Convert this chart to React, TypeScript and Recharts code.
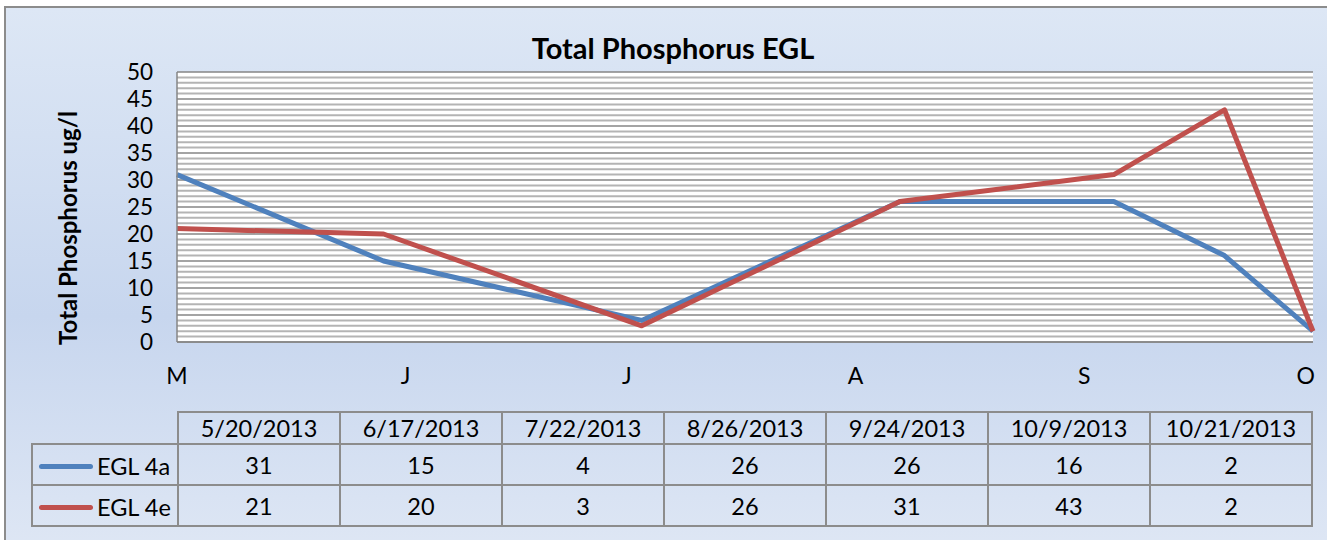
import React from 'react';
import { LineChart, Line, XAxis, YAxis, CartesianGrid, ReferenceLine } from 'recharts';

const DATES = ['5/20/2013', '6/17/2013', '7/22/2013', '8/26/2013', '9/24/2013', '10/9/2013', '10/21/2013'];
const EGL_4A = [31, 15, 4, 26, 26, 16, 2];
const EGL_4E = [21, 20, 3, 26, 31, 43, 2];

const SERIES = [
  { key: 'a', name: 'EGL 4a', values: EGL_4A, color: '#4f81bd' },
  { key: 'e', name: 'EGL 4e', values: EGL_4E, color: '#c0504d' },
];

// month ticks of the date axis, one month apart from the first sample
const MONTH_TICK_DATES = ['5/20/2013', '6/20/2013', '7/20/2013', '8/20/2013', '9/20/2013', '10/20/2013'];
const MONTH_TICK_LABELS = ['M', 'J', 'J', 'A', 'S', 'O'];

const Y_TICKS = [0, 5, 10, 15, 20, 25, 30, 35, 40, 45, 50];
// minor gridlines, every 1 ug/l between the major ones
const MINOR_Y_TICKS = Array.from({ length: 51 }, (_, i) => i).filter((v) => v % 5 !== 0);

const toDay = (s: string) => {
  const [m, d, y] = s.split('/').map(Number);
  return Math.round(Date.UTC(y, m - 1, d) / 86400000);
};
const START = toDay(DATES[0]);

const data = DATES.map((d, i) => ({ day: toDay(d) - START, a: EGL_4A[i], e: EGL_4E[i] }));
const monthTicks = MONTH_TICK_DATES.map((d) => toDay(d) - START);

const FONT = 'Lato, "Open Sans", sans-serif';
const BORDER = '2px solid #8c8c8c';

export default function App() {
  const cell: React.CSSProperties = { border: BORDER, textAlign: 'center', padding: 0, fontSize: 23.5 };
  return (
    <div style={{ position: 'relative', width: 1327, height: 540, overflow: 'hidden', fontFamily: FONT }}>
      <style>{`body{margin:0;overflow:hidden}`}</style>
      <div
        style={{
          position: 'absolute',
          left: 4,
          top: 6,
          width: 1340,
          height: 560,
          borderLeft: BORDER,
          borderTop: BORDER,
          background: 'linear-gradient(180deg, #dde7f5 0%, #c7d6ee 55%, #e0e8f5 100%)',
        }}
      />
      <div
        style={{
          position: 'absolute',
          left: 0,
          width: 1346,
          top: 30,
          textAlign: 'center',
          fontWeight: 700,
          fontSize: 29,
          lineHeight: '36px',
        }}
      >
        Total Phosphorus EGL
      </div>
      <div
        style={{
          position: 'absolute',
          left: 67,
          top: 228,
          transform: 'translate(-50%, -50%) rotate(-90deg)',
          whiteSpace: 'nowrap',
          fontWeight: 700,
          fontSize: 24,
        }}
      >
        Total Phosphorus ug/l
      </div>
      <LineChart
        width={1327}
        height={540}
        data={data}
        margin={{ top: 72, right: 14, bottom: 158, left: 117 }}
        style={{ position: 'absolute', left: 0, top: 0 }}
      >
        <CartesianGrid vertical={false} fill="#ffffff" stroke="#868686" strokeWidth={1.5} />
        {MINOR_Y_TICKS.map((v) => (
          <ReferenceLine key={v} y={v} stroke="#b4b4b4" strokeWidth={2} />
        ))}
        <XAxis
          dataKey="day"
          type="number"
          domain={[0, data[data.length - 1].day]}
          ticks={monthTicks}
          interval={0}
          tickFormatter={(v: number) => MONTH_TICK_LABELS[monthTicks.indexOf(v)] ?? ''}
          tickLine={false}
          tickSize={0}
          tickMargin={26}
          height={40}
          axisLine={{ stroke: '#868686', strokeWidth: 1.5 }}
          tick={{ fill: '#000', fontSize: 23, fontFamily: FONT }}
        />
        <YAxis
          type="number"
          domain={[0, 50]}
          ticks={Y_TICKS}
          interval={0}
          width={60}
          tickLine={false}
          tickSize={0}
          tickMargin={24}
          axisLine={{ stroke: '#868686', strokeWidth: 1.5 }}
          tick={{ fill: '#000', fontSize: 22.5, fontFamily: FONT }}
        />
        {SERIES.map((s) => (
          <Line
            key={s.key}
            dataKey={s.key}
            name={s.name}
            type="linear"
            stroke={s.color}
            strokeWidth={5}
            strokeLinejoin="round"
            dot={false}
            activeDot={false}
            isAnimationActive={false}
          />
        ))}
      </LineChart>
      <table
        style={{
          position: 'absolute',
          left: 31,
          top: 411,
          width: 1282,
          borderCollapse: 'collapse',
          tableLayout: 'fixed',
          color: '#000',
        }}
      >
        <colgroup>
          <col style={{ width: 146 }} />
          {DATES.map((d) => (
            <col key={d} />
          ))}
        </colgroup>
        <tbody>
          <tr style={{ height: 32 }}>
            <td style={{ ...cell, borderTop: 'none', borderLeft: 'none' }} />
            {DATES.map((d) => (
              <td key={d} style={cell}>
                {d}
              </td>
            ))}
          </tr>
          {SERIES.map((s) => (
            <tr key={s.key} style={{ height: 41 }}>
              <td style={{ ...cell, textAlign: 'left', whiteSpace: 'nowrap' }}>
                <span
                  style={{
                    display: 'inline-block',
                    width: 54,
                    height: 5,
                    borderRadius: 3,
                    background: s.color,
                    verticalAlign: 'middle',
                    marginLeft: 6,
                    marginRight: 4,
                  }}
                />
                <span style={{ verticalAlign: 'middle' }}>{s.name}</span>
              </td>
              {s.values.map((v, i) => (
                <td key={i} style={cell}>
                  {v}
                </td>
              ))}
            </tr>
          ))}
        </tbody>
      </table>
    </div>
  );
}
